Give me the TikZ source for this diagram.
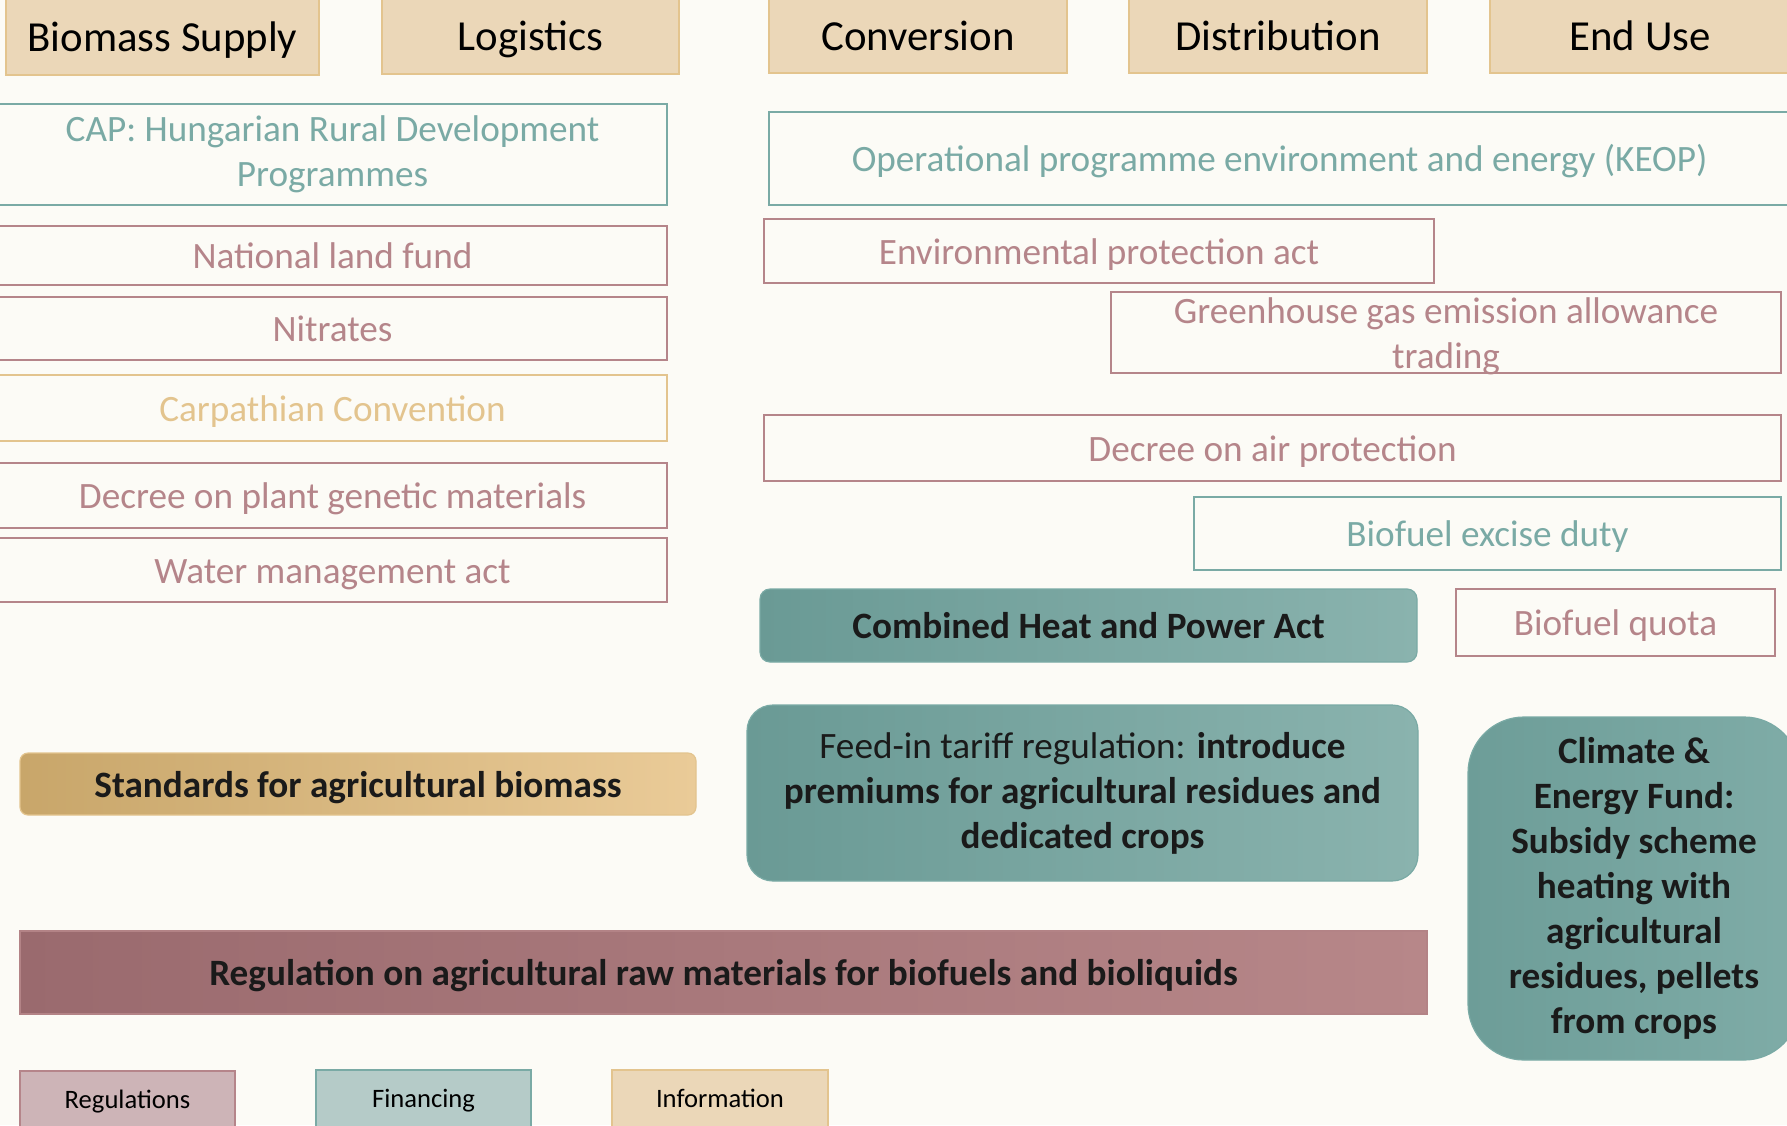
\documentclass[tikz,border=0pt]{standalone}
\usepackage{fontspec}
\setmainfont{Carlito}

\definecolor{paper}{HTML}{FCFBF6}
\definecolor{infofill}{HTML}{EBD7B8}
\definecolor{infoline}{HTML}{E3C48E}
\definecolor{finline}{HTML}{7AAAA5}
\definecolor{finfill}{HTML}{B5CBC8}
\definecolor{regline}{HTML}{B5858A}
\definecolor{regfill}{HTML}{CDB4B7}
\definecolor{darktext}{HTML}{1A1A1A}
\definecolor{findark}{HTML}{6A9A95}
\definecolor{finlight}{HTML}{8AB3AE}
\definecolor{fundleft}{HTML}{6D9D98}
\definecolor{fundright}{HTML}{7FACA7}
\definecolor{infodark}{HTML}{C8A66A}
\definecolor{infolight}{HTML}{EACB98}
\definecolor{regdark}{HTML}{9A6A6E}
\definecolor{reglight}{HTML}{B78789}
\definecolor{regedge}{HTML}{B38386}

\begin{document}
\begin{tikzpicture}[x=0.5pt, y=-0.5pt,
      every node/.append style={inner sep=0pt, outer sep=0pt, align=center, line width=1pt},
      size/.style 2 args={minimum width=#1, minimum height=#2},
      oneline/.style={text height=14.25pt, text depth=1pt}]
    \tikzstyle{stage} = [draw=infoline, fill=infofill, font=\fontsize{21.4}{25}\selectfont,
                         text height=16pt, text depth=1.5pt]
    \tikzstyle{plain} = [font=\fontsize{18.6}{22.5}\selectfont]
    \tikzstyle{heavy} = [font=\fontsize{18.6}{22.5}\selectfont\bfseries, text=darktext, line width=0.6pt]
    \tikzstyle{finbox} = [plain, draw=finline, text=finline]
    \tikzstyle{regbox} = [plain, draw=regline, text=regline]
    \tikzstyle{infobox} = [plain, draw=infoline, text=infoline]
    \tikzstyle{key} = [font=\fontsize{13.3}{15}\selectfont, text height=9pt, text depth=1.5pt]
    \useasboundingbox (0,0) rectangle (1787,1125);
    \fill[paper] (0,0) rectangle (1787,1125);
    \clip (0,0) rectangle (1787,1125);
    % value chain stages
    \node[stage, size={156.5pt}{38.5pt}] (supply) at (162.5,36.5) {Biomass Supply};
    \node[stage, size={148.5pt}{38pt}] (logistics) at (530.5,36) {Logistics};
    \node[stage, size={149pt}{37.5pt}] (conversion) at (918,35.5) {Conversion};
    \node[stage, size={149pt}{37.5pt}] (distribution) at (1278,35.5) {Distribution};
    \node[stage, size={150pt}{37.5pt}] (enduse) at (1640,35.5) {End Use};
    % biomass supply side
    \node[finbox, size={334.5pt}{50.5pt}] (cap) at (332.5,154.5) {CAP: Hungarian Rural Development\\Programmes};
    \node[regbox, oneline, size={334.5pt}{29.5pt}] (landfund) at (332.5,255.5) {National land fund};
    \node[regbox, oneline, size={334.5pt}{31.5pt}] (nitrates) at (332.5,328.5) {Nitrates};
    \node[infobox, oneline, size={334.5pt}{33pt}] (carpathian) at (332.5,408) {Carpathian Convention};
    \node[regbox, oneline, size={334.5pt}{32.5pt}] (genetic) at (332.5,495.5) {Decree on plant genetic materials};
    \node[regbox, oneline, size={334.5pt}{32pt}] (water) at (332.5,570) {Water management act};
    % conversion to end use
    \node[finbox, oneline, size={510.5pt}{46.5pt}] (keop) at (1279.5,158.5) {Operational programme environment and energy (KEOP)};
    \node[regbox, oneline, size={335pt}{32pt}] (envprot) at (1099,251) {Environmental protection act};
    \node[regbox, size={335pt}{40.5pt}] (ghg) at (1446,332.5) {};
    \node[plain, text=regline] (ghgtext) at (1446,336.5) {Greenhouse gas emission allowance\\trading};
    \node[regbox, oneline, size={508.5pt}{33pt}] (air) at (1272.5,448) {Decree on air protection};
    \node[finbox, oneline, size={293.5pt}{36.5pt}] (excise) at (1487.5,533.5) {Biofuel excise duty};
    \node[heavy, oneline, draw=finline, rounded corners=5pt, left color=findark, right color=finlight,
          size={328.5pt}{36.5pt}] (chp) at (1088.5,625.5) {Combined Heat and Power Act};
    \node[regbox, oneline, size={159.5pt}{33.5pt}] (quota) at (1615.5,622.5) {Biofuel quota};
    \node[heavy, font=\fontsize{18.6}{22.5}\selectfont, draw=finline, rounded corners=13pt,
          left color=findark, right color=finlight, size={335.5pt}{88pt}] (feedin) at (1082.5,793)
          {Feed-in tariff regulation: \textbf{introduce}\\\textbf{premiums for agricultural residues and}\\\textbf{dedicated crops}};
    \node[heavy, draw=finline, rounded corners=28pt, left color=fundleft, right color=fundright,
          size={166pt}{171.5pt}] (climate) at (1634,888.5)
          {Climate \&\\Energy Fund:\\Subsidy scheme\\heating with\\agricultural\\residues, pellets\\from crops};
    \node[heavy, oneline, draw=infoline, rounded corners=4pt, left color=infodark, right color=infolight,
          size={338pt}{31pt}] (standards) at (358,784) {Standards for agricultural biomass};
    \node[heavy, oneline, draw=regedge, left color=regdark, right color=reglight,
          size={703.5pt}{41.5pt}] (rawmat) at (723.5,972.5)
          {Regulation on agricultural raw materials for biofuels and bioliquids};
    % legend
    \node[key, draw=regline, fill=regfill, size={107.5pt}{29.5pt}] (keyreg) at (127.5,1100.5) {Regulations};
    \node[key, draw=finline, fill=finfill, size={107.5pt}{30pt}] (keyfin) at (423.5,1100) {Financing};
    \node[key, draw=infoline, fill=infofill, size={108pt}{30pt}] (keyinfo) at (720,1100) {Information};
\end{tikzpicture}
\end{document}
